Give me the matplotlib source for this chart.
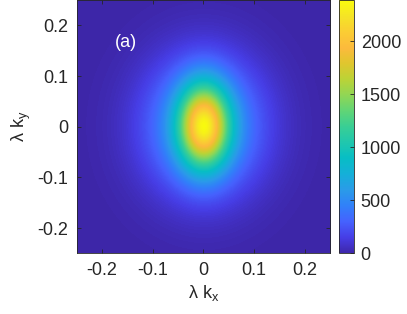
import numpy as np
import matplotlib
matplotlib.use("Agg")
from matplotlib import pyplot as plt
from matplotlib.colors import LinearSegmentedColormap

# values: two gaussian parts (narrow core + wide halo)
core_amp = 1700.0
core_sx, core_sy = 0.034, 0.057
halo_amp = 690.0
halo_sx, halo_sy = 0.080, 0.092
n_cells = 77
k_lim = 0.25
clim = [0, 2390]

xticks = [-0.2, -0.1, 0, 0.1, 0.2]
yticks = [-0.2, -0.1, 0, 0.1, 0.2]
cticks = [0, 500, 1000, 1500, 2000]
panel = '(a)'

# parula-like colormap
parula_pts = [
    (0.2422, 0.1504, 0.6603), (0.2760, 0.2389, 0.8990), (0.2718, 0.3829, 0.9955),
    (0.1912, 0.5036, 0.9775), (0.1641, 0.6092, 0.9107), (0.0805, 0.6881, 0.8469),
    (0.0281, 0.7434, 0.7713), (0.1211, 0.7796, 0.6832), (0.2199, 0.8083, 0.5853),
    (0.3769, 0.8338, 0.4629), (0.5667, 0.8400, 0.3338), (0.7342, 0.8275, 0.2133),
    (0.8788, 0.7757, 0.1800), (0.9895, 0.7298, 0.2373), (0.9828, 0.8013, 0.2018),
    (0.9604, 0.8923, 0.1507), (0.9763, 0.9831, 0.0538)]
parula = LinearSegmentedColormap.from_list('parula', parula_pts, N=256)

kx = np.linspace(-k_lim, k_lim, n_cells)
ky = np.linspace(-k_lim, k_lim, n_cells)
KX, KY = np.meshgrid(kx, ky)
I = core_amp * np.exp(-KX**2 / (2 * core_sx**2) - KY**2 / (2 * core_sy**2)) \
    + halo_amp * np.exp(-KX**2 / (2 * halo_sx**2) - KY**2 / (2 * halo_sy**2))

plt.rcParams['font.family'] = 'Liberation Sans'
plt.rcParams['mathtext.fontset'] = 'custom'
plt.rcParams['mathtext.rm'] = 'Liberation Sans'
plt.rcParams['font.size'] = 13
dark = '#262626'

fig = plt.figure(figsize=(4.07, 3.14), dpi=100)
ax = fig.add_axes([0.188, 0.1927, 0.623, 0.8073])
im = ax.imshow(I, cmap=parula, vmin=clim[0], vmax=clim[1], origin='lower',
               extent=[-k_lim, k_lim, -k_lim, k_lim], interpolation='bilinear',
               aspect='auto')
ax.set_xlim(-k_lim, k_lim)
ax.set_ylim(-k_lim, k_lim)
ax.set_xticks(xticks)
ax.set_yticks(yticks)
ax.set_xticklabels(['%g' % t for t in xticks])
ax.set_yticklabels(['%g' % t for t in yticks])
ax.tick_params(direction='in', length=3, width=0.6, color=dark, labelcolor=dark,
               top=True, right=True, pad=6)
for s in ax.spines.values():
    s.set_color(dark)
    s.set_linewidth(0.6)
ax.set_xlabel('λ k$_\\mathregular{x}$', color=dark, labelpad=3)
ax.set_ylabel('λ k$_\\mathregular{y}$', color=dark, labelpad=3)
ax.text(-0.152, 0.167, panel, color='white', ha='center', va='center')

cax = fig.add_axes([0.832, 0.1927, 0.037, 0.8073])
cb = fig.colorbar(im, cax=cax, ticks=cticks)
cb.outline.set_edgecolor(dark)
cb.outline.set_linewidth(0.6)
cax.tick_params(direction='in', length=3, width=0.6, color=dark, labelcolor=dark, pad=5)

plt.savefig('out.png', dpi=100)
